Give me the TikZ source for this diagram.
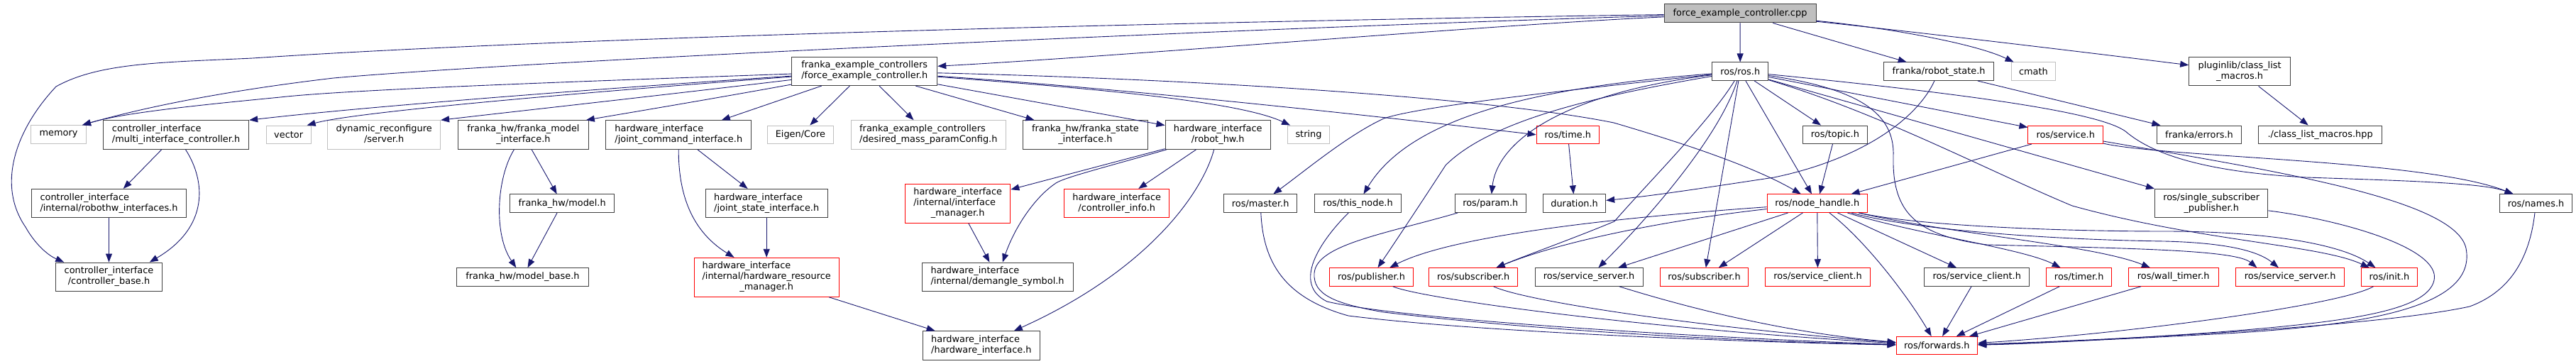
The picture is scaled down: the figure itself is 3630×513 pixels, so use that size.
\documentclass[tikz,border=0pt]{standalone}
\usepackage{fontspec}
\setmainfont{DejaVu Sans}
\usetikzlibrary{arrows.meta,calc}
\definecolor{boxgray}{HTML}{404040}
\definecolor{lgray}{HTML}{BFBFBF}
\definecolor{edgeblue}{HTML}{191970}
\definecolor{trunc}{HTML}{FF0000}
\newcommand\lft[1]{\begin{tabular}{@{}l@{}}#1\end{tabular}}
\newcommand\ctr[1]{\begin{tabular}{@{}c@{}}#1\end{tabular}}
\newcommand\mc[1]{\multicolumn{1}{@{}c@{}}{#1}}
\begin{document}
\begin{tikzpicture}[x=1pt,y=-1pt,
  every node/.style={font=\fontsize{12.9}{15}\selectfont, inner sep=0pt, text=black},
  fA/.style={draw=boxgray, line width=1pt, rectangle, minimum height=25.5},
  fR/.style={draw=trunc, line width=1pt, rectangle, minimum height=25.5},
  fG/.style={draw=lgray, line width=1pt, rectangle, minimum height=25.5},
  rootbox/.style={draw=boxgray, fill=lgray, line width=1pt, rectangle, minimum height=26},
  twol/.style={minimum height=40.5},
  threel/.style={minimum height=55},
  inc/.style={draw=edgeblue, line width=0.9pt, -{Triangle[length=12pt,width=9pt]}}
]
\fill[white] (0,0) rectangle (3630,513);
\useasboundingbox (0,0) rectangle (3630,513);

% ---------- nodes ----------
\node[rootbox,minimum width=214] (root) at (2452,19) {force\_example\_controller.cpp};
\node[fA,twol,minimum width=205] (fech) at (1218.3,100.3) {\lft{franka\_example\_controllers\\/force\_example\_controller.h}};
\node[fA,minimum width=79] (rosh) at (2452.2,100.7) {ros/ros.h};
\node[fA,minimum width=155] (robotstate) at (2732.1,100.7) {franka/robot\_state.h};
\node[fG,minimum width=62.4] (cmath) at (2865.4,100.7) {cmath};
\node[fA,twol,minimum width=142.8] (pluginlib) at (3156.1,100.7) {\ctr{pluginlib/class\_list\\\_macros.h}};

\node[fG,minimum width=78] (memory) at (82.5,189.5) {memory};
\node[fA,twol,minimum width=205.2] (multi) at (248.1,190) {\lft{controller\_interface\\/multi\_interface\_controller.h}};
\node[fG,minimum width=62.8] (vector) at (406.7,189.8) {vector};
\node[fG,twol,minimum width=158.8] (dynrec) at (541.2,190) {\ctr{dynamic\_reconfigure\\/server.h}};
\node[fA,twol,minimum width=183.8] (fmodel) at (737.4,190) {\ctr{franka\_hw/franka\_model\\\_interface.h}};
\node[fA,twol,minimum width=204.8] (jcmd) at (956.3,190) {\lft{hardware\_interface\\/joint\_command\_interface.h}};
\node[fG,minimum width=92.5] (eigen) at (1127.9,189.8) {Eigen/Core};
\node[fG,twol,minimum width=218.5] (desired) at (1308.3,190) {\lft{franka\_example\_controllers\\/desired\_mass\_paramConfig.h}};
\node[fA,twol,minimum width=176.4] (fstate) at (1529.4,190) {\ctr{franka\_hw/franka\_state\\\_interface.h}};
\node[fA,twol,minimum width=148.3] (robothw) at (1716.2,190) {\ctr{hardware\_interface\\/robot\_hw.h}};
\node[fG,minimum width=58.9] (string) at (1844,189.8) {string};
\node[fR,minimum width=88.5] (time) at (2209.3,189.8) {ros/time.h};
\node[fA,minimum width=90.9] (topic) at (2585.9,189.8) {ros/topic.h};
\node[fR,minimum width=105.6] (service) at (2910.7,189.8) {ros/service.h};
\node[fA,minimum width=118.6] (errors) at (3099,189.8) {franka/errors.h};
\node[fA,minimum width=173.6] (clmhpp) at (3269.6,189.8) {./class\_list\_macros.hpp};

\node[fA,twol,minimum width=217.5] (robothwif) at (153.5,286.7) {\lft{controller\_interface\\/internal/robothw\_interfaces.h}};
\node[fA,minimum width=147.1] (model) at (792.2,286.7) {franka\_hw/model.h};
\node[fA,twol,minimum width=172] (jstate) at (1080.2,286.7) {\lft{hardware\_interface\\/joint\_state\_interface.h}};
\node[fR,threel,minimum width=148.3] (ifmgr) at (1349.7,286.7) {\lft{hardware\_interface\\/internal/interface\\\mc{\_manager.h}}};
\node[fR,twol,minimum width=147.9] (ctrlinfo) at (1573.7,286.7) {\ctr{hardware\_interface\\/controller\_info.h}};
\node[fA,minimum width=103] (master) at (1776.2,286.7) {ros/master.h};
\node[fA,minimum width=121.8] (thisnode) at (1913.5,286.7) {ros/this\_node.h};
\node[fA,minimum width=100] (param) at (2100.3,286.7) {ros/param.h};
\node[fA,minimum width=88.1] (duration) at (2218.6,286.7) {duration.h};
\node[fR,minimum width=141.3] (nodehandle) at (2560.7,286.7) {ros/node\_handle.h};
\node[fA,twol,minimum width=159.3] (ssp) at (3116.2,286.7) {\ctr{ros/single\_subscriber\\\_publisher.h}};
\node[fA,minimum width=102.9] (names) at (3573.5,286.7) {ros/names.h};

\node[fA,twol,minimum width=149.5] (ctrlbase) at (153.5,390.3) {\ctr{controller\_interface\\/controller\_base.h}};
\node[fA,minimum width=185.8] (modelbase) at (736.4,390.5) {franka\_hw/model\_base.h};
\node[fR,threel,minimum width=203.6] (hrm) at (1080.2,390.8) {\lft{hardware\_interface\\/internal/hardware\_resource\\\mc{\_manager.h}}};
\node[fA,twol,minimum width=212.8] (demangle) at (1405.6,390.3) {\lft{hardware\_interface\\/internal/demangle\_symbol.h}};
\node[fR,minimum width=117.9] (publisher) at (1932.5,390.5) {ros/publisher.h};
\node[fR,minimum width=124.6] (sub1) at (2076.2,390.5) {ros/subscriber.h};
\node[fA,minimum width=152.2] (ssrv1) at (2239.1,390.5) {ros/service\_server.h};
\node[fR,minimum width=123.6] (sub2) at (2401.5,390.5) {ros/subscriber.h};
\node[fR,minimum width=148.3] (scli1) at (2561.5,390.5) {ros/service\_client.h};
\node[fA,minimum width=148.3] (scli2) at (2785.7,390.5) {ros/service\_client.h};
\node[fR,minimum width=92.1] (timer) at (2929.7,390.5) {ros/timer.h};
\node[fR,minimum width=127.3] (walltimer) at (3062.7,390.5) {ros/wall\_timer.h};
\node[fR,minimum width=152.6] (ssrv2) at (3227.1,390.5) {ros/service\_server.h};
\node[fR,minimum width=78.7] (init) at (3366.9,390.5) {ros/init.h};

\node[fA,twol,minimum width=164.2] (hwif) at (1382.9,487) {\lft{hardware\_interface\\/hardware\_interface.h}};
\node[fR,minimum width=114.7] (forwards) at (2729.4,487.2) {ros/forwards.h};

% ---------- edges: root ----------
\draw[inc] (root) .. controls (1700,30) and (800,52) .. (356,82) .. controls (230,88) and (140,88) .. (79,122) .. controls (20,185) and (-4,262) .. (36,320) .. controls (50,345) and (68,360) .. ($(ctrlbase.north west)+(12,0)$);
\draw[inc] (root) .. controls (1800,38) and (750,85) .. (470,110) .. controls (300,130) and (190,155) .. ($(memory.north east)+(-6,0)$);
\draw[inc] (root) .. controls (2100,35) and (1600,78) .. ($(fech.east)+(0,-7)$);
\draw[inc] (root) -- (rosh);
\draw[inc] (root) -- (robotstate);
\draw[inc] (root) .. controls (2650,38) and (2780,60) .. (cmath);
\draw[inc] (root) .. controls (2700,45) and (2950,75) .. (pluginlib);

% ---------- edges: force_example_controller.h ----------
\draw[inc] (fech) .. controls (900,112) and (500,125) .. (395,137) .. controls (260,150) and (170,160) .. ($(memory.north east)+(-6,0)$);
\draw[inc] (fech) .. controls (800,128) and (500,152) .. (multi.north east);
\draw[inc] (fech) .. controls (800,132) and (500,158) .. ($(vector.north east)+(-6,0)$);
\draw[inc] (fech) .. controls (900,138) and (700,160) .. (dynrec.north east);
\draw[inc] (fech) .. controls (1000,140) and (880,160) .. ($(fmodel.north east)+(-4,0)$);
\draw[inc] (fech) -- (jcmd);
\draw[inc] (fech) -- (eigen);
\draw[inc] (fech) -- (desired);
\draw[inc] (fech) -- (fstate);
\draw[inc] (fech) -- (robothw);
\draw[inc] (fech) .. controls (1500,122) and (1740,140) .. ($(string.north west)+(4,0)$);
\draw[inc] (fech) .. controls (1600,126) and (1950,165) .. (time.west);
\draw[inc] (fech) .. controls (1700,112) and (2100,138) .. (2274,173) .. controls (2400,210) and (2480,240) .. (nodehandle);

% ---------- edges: left part ----------
\draw[inc] (multi) -- (robothwif);
\draw[inc] (multi) .. controls (290,255) and (295,320) .. ($(ctrlbase.north east)+(-18,0)$);
\draw[inc] (robothwif) -- (ctrlbase);
\draw[inc] (fmodel) -- (model);
\draw[inc] (fmodel) .. controls (700,250) and (695,330) .. (modelbase);
\draw[inc] (model) -- (modelbase);
\draw[inc] (jcmd) -- (jstate);
\draw[inc] (jcmd) .. controls (956,262) and (968,322) .. (hrm);
\draw[inc] (jstate) -- (hrm);
\draw[inc] (hrm) -- (hwif);
\draw[inc] (robothw) -- (ifmgr);
\draw[inc] (robothw) .. controls (1560,235) and (1500,250) .. (1488,258) .. controls (1458,278) and (1430,320) .. (demangle);
\draw[inc] (robothw) -- (ctrlinfo);
\draw[inc] (robothw) .. controls (1695,270) and (1620,380) .. (hwif);
\draw[inc] (ifmgr) -- (demangle);

% ---------- edges: middle / right ----------
\draw[inc] (time) -- (duration);
\draw[inc] (robotstate) .. controls (2700,170) and (2620,225) .. (2500,250) .. controls (2400,265) and (2330,276) .. (duration);
\draw[inc] (robotstate) -- (errors);
\draw[inc] (pluginlib) -- (clmhpp);
\draw[inc] (topic) -- (nodehandle);
\draw[inc] (service) -- (nodehandle);
\draw[inc] (service) .. controls (3050,222) and (3420,225) .. ($(names.north)+(-32,0)$);
\draw[inc] (service) .. controls (3200,240) and (3460,280) .. (3475,350) .. controls (3490,430) and (3350,460) .. (3100,472) .. controls (2950,480) and (2850,484) .. (forwards);

% ---------- edges: ros/ros.h ----------
\draw[inc] (rosh) .. controls (2200,128) and (2000,150) .. (1950,167) .. controls (1900,190) and (1840,240) .. (master);
\draw[inc] (rosh) .. controls (2180,122) and (1990,160) .. (thisnode);
\draw[inc] (rosh) .. controls (2200,132) and (2110,200) .. (param);
\draw[inc] (rosh) .. controls (2250,135) and (2100,170) .. (2037,233) .. controls (2000,290) and (1960,350) .. (publisher);
\draw[inc] (rosh) .. controls (2410,170) and (2320,260) .. (2275,312) .. controls (2220,335) and (2150,360) .. (sub1);
\draw[inc] (rosh) .. controls (2420,200) and (2310,320) .. (ssrv1);
\draw[inc] (rosh) -- (sub2);
\draw[inc] (rosh) -- (nodehandle);
\draw[inc] (rosh) -- (topic);
\draw[inc] (rosh) -- (service);
\draw[inc] (rosh) .. controls (2800,135) and (2960,160) .. (2995,185) .. controls (3030,215) and (3100,242) .. (3250,250) .. controls (3400,255) and (3500,258) .. ($(names.north)+(-32,0)$);
\draw[inc] (rosh) -- (ssp.north west);
\draw[inc] (rosh) .. controls (2650,160) and (2800,240) .. (2920,290) .. controls (3100,340) and (3270,345) .. (init);
\draw[inc] (rosh) .. controls (2620,125) and (2670,160) .. (2668,220) .. controls (2666,300) and (2700,332) .. (2800,345) .. controls (3000,350) and (3150,352) .. ($(ssrv2.north west)+(30,0)$);

% ---------- edges: ros/node_handle.h ----------
\draw[inc] (nodehandle) .. controls (2300,305) and (2050,330) .. (publisher);
\draw[inc] (nodehandle) .. controls (2350,310) and (2200,340) .. (sub1);
\draw[inc] (nodehandle) -- (ssrv1);
\draw[inc] (nodehandle) -- (sub2);
\draw[inc] (nodehandle) -- (scli1);
\draw[inc] (nodehandle) .. controls (2630,340) and (2690,420) .. (forwards);
\draw[inc] (nodehandle) -- (scli2);
\draw[inc] (nodehandle) .. controls (2700,330) and (2850,350) .. (timer);
\draw[inc] (nodehandle) .. controls (2750,330) and (2950,345) .. (walltimer);
\draw[inc] (nodehandle) .. controls (2700,325) and (2900,338) .. (3050,340) .. controls (3130,342) and (3180,352) .. (ssrv2);
\draw[inc] (nodehandle) .. controls (2700,318) and (2900,326) .. (3050,326) .. controls (3200,326) and (3300,345) .. (init);

% ---------- edges: into ros/forwards.h ----------
\draw[inc] (master) .. controls (1780,370) and (1810,420) .. (1900,445) .. controls (2100,470) and (2500,483) .. (forwards);
\draw[inc] (thisnode) .. controls (1860,340) and (1820,400) .. (1870,425) .. controls (2000,455) and (2500,480) .. (forwards);
\draw[inc] (param) .. controls (1950,330) and (1855,345) .. (1852,385) .. controls (1850,415) and (1880,428) .. (1950,440) .. controls (2200,470) and (2500,482) .. (forwards);
\draw[inc] (publisher) .. controls (2000,420) and (2300,462) .. (forwards);
\draw[inc] (sub1) .. controls (2150,425) and (2400,462) .. (forwards);
\draw[inc] (ssrv1) .. controls (2350,425) and (2500,468) .. (forwards);
\draw[inc] (scli2) -- (forwards);
\draw[inc] (timer) -- (forwards);
\draw[inc] (walltimer) -- (forwards);
\draw[inc] (init) .. controls (3300,430) and (3000,470) .. (forwards);
\draw[inc] (ssp) .. controls (3300,310) and (3440,350) .. (3430,395) .. controls (3420,440) and (3300,455) .. (3100,470) .. controls (2950,480) and (2850,485) .. (forwards);
\draw[inc] (names) .. controls (3565,360) and (3540,410) .. (3480,432) .. controls (3350,460) and (3000,478) .. (forwards);
\end{tikzpicture}
\end{document}
